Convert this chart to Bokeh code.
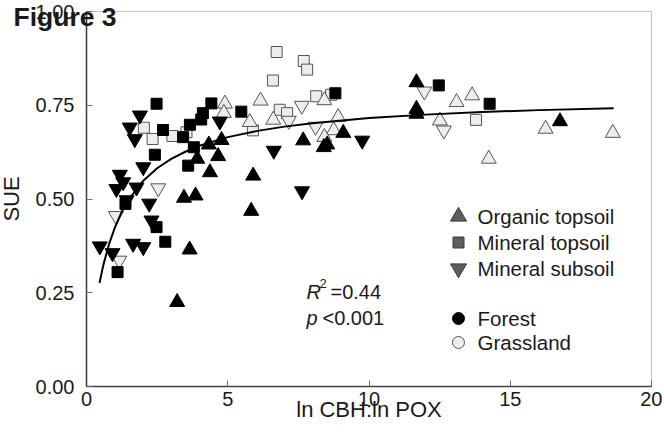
from bokeh.plotting import figure
from bokeh.models import Range1d, FixedTicker, Label, ColumnDataSource, BoxAnnotation
from bokeh.embed import file_html
from bokeh.resources import INLINE
from bokeh.core.properties import value

# ---------------- data ----------------
x_ticks = [0, 5, 10, 15, 20]
y_ticks = [0.0, 0.25, 0.5, 0.75, 1.0]
y_tick_labels = ["0.00", "0.25", "0.50", "0.75", "1.00"]

x_title = "ln CBH:ln POX"
y_title = "SUE"
fig_title = "Figure 3"

# Forest (black) - organic topsoil (triangles)
forest_org_x = [4.33, 4.78, 3.92, 4.66, 4.37, 3.45, 3.86, 5.90, 5.83, 3.65, 3.21, 7.67, 9.09, 8.52, 8.40, 11.68, 11.68, 11.68, 16.76]
forest_org_y = [0.645, 0.657, 0.607, 0.614, 0.571, 0.503, 0.509, 0.562, 0.468, 0.365, 0.225, 0.656, 0.676, 0.645, 0.638, 0.811, 0.740, 0.727, 0.707]
# Forest - mineral topsoil (squares)
forest_mtop_x = [2.48, 2.71, 3.42, 3.66, 4.06, 4.12, 4.42, 5.48, 2.42, 3.60, 3.80, 1.38, 2.48, 2.79, 1.10, 8.81, 12.47, 14.27]
forest_mtop_y = [0.754, 0.684, 0.665, 0.698, 0.712, 0.729, 0.755, 0.733, 0.618, 0.589, 0.638, 0.487, 0.425, 0.386, 0.305, 0.782, 0.803, 0.754]
# Forest - mineral subsoil (inverted triangles)
forest_msub_x = [1.89, 1.53, 1.71, 4.72, 6.63, 7.63, 9.76, 2.01, 1.18, 1.30, 1.06, 1.77, 1.42, 2.22, 2.30, 1.65, 2.01, 0.47, 0.92]
forest_msub_y = [0.723, 0.691, 0.660, 0.707, 0.629, 0.521, 0.656, 0.585, 0.565, 0.545, 0.527, 0.531, 0.497, 0.488, 0.443, 0.381, 0.372, 0.374, 0.356]

# Grassland (light) - organic topsoil
grass_org_x = [4.90, 4.86, 6.16, 5.78, 6.61, 8.42, 8.91, 8.75, 8.42, 13.10, 13.65, 12.51, 14.24, 16.25, 18.63]
grass_org_y = [0.754, 0.729, 0.762, 0.705, 0.711, 0.763, 0.718, 0.683, 0.665, 0.758, 0.776, 0.709, 0.607, 0.687, 0.676]
# Grassland - mineral topsoil
grass_mtop_x = [2.03, 2.34, 3.04, 3.54, 5.89, 6.84, 7.10, 6.73, 6.60, 7.69, 7.81, 8.13, 8.66, 13.79]
grass_mtop_y = [0.690, 0.660, 0.668, 0.678, 0.683, 0.738, 0.729, 0.892, 0.816, 0.868, 0.845, 0.774, 0.778, 0.711]
# Grassland - mineral subsoil
grass_msub_x = [7.62, 7.16, 8.11, 11.96, 12.65, 2.54, 1.04, 1.16]
grass_msub_y = [0.749, 0.709, 0.693, 0.787, 0.683, 0.529, 0.455, 0.336]

# fitted curve
curve_x = [0.46, 0.6, 0.8, 1.0, 1.25, 1.5, 2.0, 2.5, 3.0, 3.5, 4.0, 5.0, 6.0, 7.0, 8.0, 10.0, 12.0, 14.0, 16.0, 18.66]
curve_y = [0.276, 0.325, 0.380, 0.423, 0.466, 0.499, 0.548, 0.582, 0.607, 0.626, 0.642, 0.665, 0.681, 0.693, 0.702, 0.716, 0.725, 0.732, 0.737, 0.742]

legend_labels = ["Organic topsoil", "Mineral topsoil", "Mineral subsoil", "Forest", "Grassland"]
stat_r2 = "=0.44"
stat_p = "<0.001"

# ---------------- layout (pixels inside the figure canvas) ----------------
W, H = 662, 441
AX_LEFT, AX_RIGHT = 86, 651      # canvas x of x=0 and x=20
AX_TOP, AX_BOTTOM = 11, 386      # canvas y of y=1 and y=0
x0, x1 = x_ticks[0], x_ticks[-1]
y0, y1 = y_ticks[0], y_ticks[-1]
sx = (AX_RIGHT - AX_LEFT) / (x1 - x0)
sy = (AX_BOTTOM - AX_TOP) / (y1 - y0)
x_range = Range1d(x0 - AX_LEFT / sx, x1 + (W - AX_RIGHT) / sx)
y_range = Range1d(y0 - (H - AX_BOTTOM) / sy, y1 + AX_TOP / sy)

def dx(px):   # canvas pixel -> data x
    return x0 + (px - AX_LEFT) / sx

def dy(py):   # canvas pixel -> data y
    return y0 + (AX_BOTTOM - py) / sy

# ---------------- styling ----------------
FONT = "Liberation Sans"
TXT = "#1a1a1a"
FOREST_FILL, FOREST_LINE = "#000000", "#000000"
GRASS_FILL, GRASS_LINE = "#ededed", "#555555"
LEG_FILL, LEG_LINE = "#5e5e5e", "#3a3a3a"

p = figure(width=W, height=H, x_range=x_range, y_range=y_range, title=None,
           output_backend="svg", toolbar_location=None,
           min_border_left=0, min_border_right=0, min_border_top=0, min_border_bottom=0)
p.background_fill_color = "white"
p.border_fill_color = "white"
p.grid.visible = False
p.outline_line_color = None

for ax in (p.xaxis[0], p.yaxis[0]):
    ax.fixed_location = 0
    ax.axis_line_color = "#404040"
    ax.axis_line_width = 1.5
    ax.major_tick_in = 6
    ax.major_tick_out = 0
    ax.major_tick_line_color = "#777777"
    ax.minor_tick_line_color = None
    ax.major_label_text_font = FONT
    ax.major_label_text_font_size = "20px"
    ax.major_label_text_color = TXT
    ax.axis_label_text_font = FONT
    ax.axis_label_text_font_size = "22px"
    ax.axis_label_text_font_style = "normal"
    ax.axis_label_text_color = TXT

p.xaxis.bounds = (x0, x1)
p.yaxis.bounds = (y0, y1)
p.xaxis.ticker = FixedTicker(ticks=x_ticks)
p.yaxis.ticker = FixedTicker(ticks=y_ticks)
p.yaxis.major_label_overrides = {t: l for t, l in zip(y_ticks, y_tick_labels)}
p.xaxis.axis_label = x_title
p.yaxis.axis_label = y_title
p.xaxis.major_label_standoff = 5
p.xaxis.axis_label_standoff = -12
p.yaxis.major_label_standoff = 12
p.yaxis.axis_label_standoff = 9

# plot box (top and right edges)
p.add_layout(BoxAnnotation(left=x0, right=x1, bottom=y0, top=y1, fill_color=None,
                           line_color="#404040", line_width=1.2))

TRI, SQ = 15, 11

def pts(xs, ys, marker, size, fill, line):
    p.scatter(xs, ys, marker=marker, size=size, fill_color=fill, line_color=line, line_width=1)

pts(grass_mtop_x, grass_mtop_y, "square", SQ, GRASS_FILL, GRASS_LINE)
pts(grass_org_x, grass_org_y, "triangle", TRI, GRASS_FILL, GRASS_LINE)
pts(grass_msub_x, grass_msub_y, "inverted_triangle", TRI, GRASS_FILL, GRASS_LINE)
pts(forest_mtop_x, forest_mtop_y, "square", SQ, FOREST_FILL, FOREST_LINE)
pts(forest_org_x, forest_org_y, "triangle", TRI, FOREST_FILL, FOREST_LINE)
pts(forest_msub_x, forest_msub_y, "inverted_triangle", TRI, FOREST_FILL, FOREST_LINE)

p.line(curve_x, curve_y, line_color="black", line_width=2)

# ---------------- legend (lower right, canvas pixel rows) ----------------
leg_marker_px = 458
leg_text_px = 477
leg_rows_px = [216, 242, 268, 318, 342]
leg_src = ColumnDataSource(dict(
    x=[dx(leg_marker_px)] * 5, tx=[dx(leg_text_px)] * 5, y=[dy(v) for v in leg_rows_px],
    label=legend_labels,
    marker=["triangle", "square", "inverted_triangle", "circle", "circle"],
    size=[16, 11, 16, 12, 12],
    fill=[LEG_FILL, LEG_FILL, LEG_FILL, "#000000", "#eeeeee"],
    line=[LEG_LINE, LEG_LINE, LEG_LINE, "#000000", "#555555"],
))
p.scatter(x="x", y="y", marker="marker", size="size", fill_color="fill", line_color="line",
          line_width=1, source=leg_src)
p.text(x="tx", y="y", text="label", source=leg_src, text_font=value(FONT),
       text_font_size=value("20.5px"), text_baseline="middle", text_align="left", text_color=TXT)

# ---------------- statistics ----------------
def lab(px, py, text, size="20px", style="normal", baseline="middle"):
    p.add_layout(Label(x=dx(px), y=dy(py), text=text, text_font=FONT, text_font_size=size,
                       text_font_style=style, text_baseline=baseline, text_align="left",
                       text_color=TXT))

lab(306, 291, "R", style="italic")
lab(319, 283, "2", size="13px")
lab(330, 291, stat_r2)
lab(306, 317, "p", style="italic")
lab(322, 317, stat_p)

# figure caption at the top-left corner
lab(13, 16, fig_title, size="26.5px", style="bold")

open("out.html", "w").write(file_html(p, INLINE))
